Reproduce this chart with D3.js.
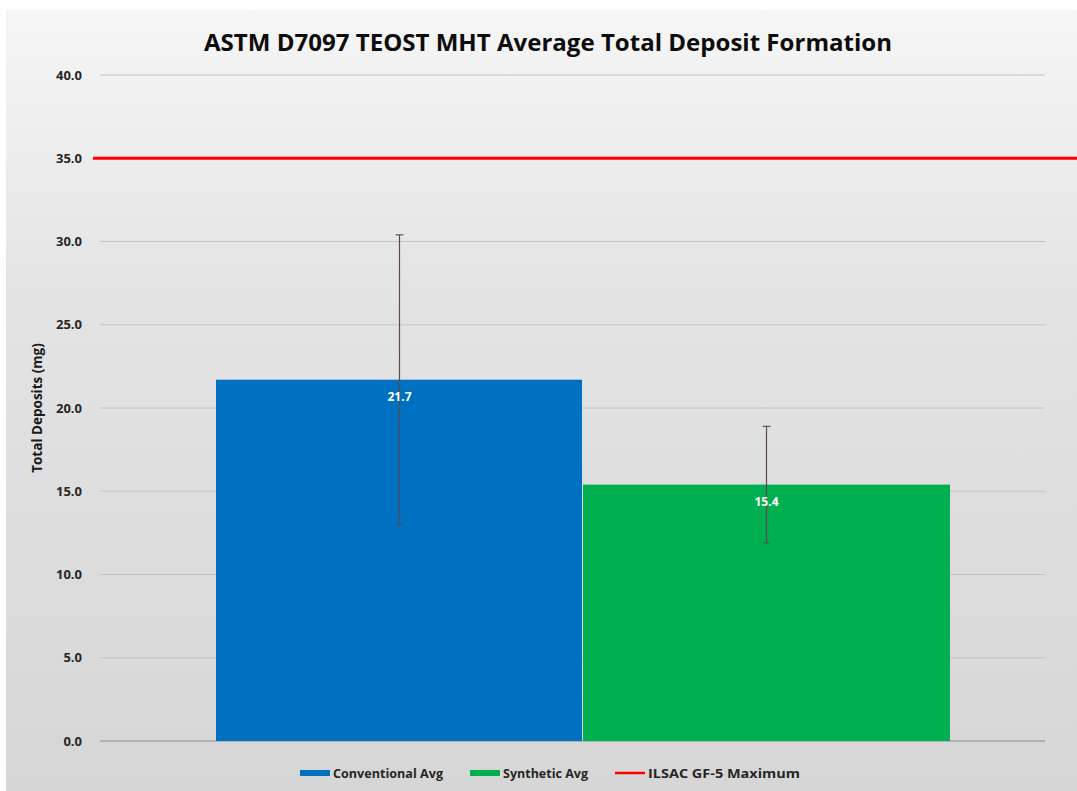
<!DOCTYPE html>
<html>
<head>
<meta charset="utf-8">
<script src="https://cdn.jsdelivr.net/npm/d3@7"></script>
<style>
  body { margin: 0; background: #ffffff; }
  svg { display: block; font-family: "Open Sans", "Noto Sans", sans-serif; }
</style>
</head>
<body>
<div id="chart"></div>
<script>
// data
var seriesNames = ["Conventional Avg", "Synthetic Avg"];
var seriesValues = [21.7, 15.4];
var seriesErrors = [8.7, 3.5];
var seriesColors = ["#0070c0", "#00b050"];
var limitName = "ILSAC GF-5 Maximum";
var limitValue = 35.0;
var yTicks = [0, 5, 10, 15, 20, 25, 30, 35, 40];

var WIDTH = 1077, HEIGHT = 791;
var PLOT_LEFT = 100, PLOT_RIGHT = 1045;
var BAR_LEFT = 216, BAR_RIGHT = 950;
var Y_BOTTOM = 741, Y_TOP = 75;

var svg = d3.select("#chart").append("svg")
	.attr("width", WIDTH)
	.attr("height", HEIGHT);

var defs = svg.append("defs");
var grad = defs.append("linearGradient")
	.attr("id", "bg")
	.attr("x1", 0).attr("y1", 0).attr("x2", 0).attr("y2", 1);
grad.append("stop").attr("offset", "0%").attr("stop-color", "#f6f6f6");
grad.append("stop").attr("offset", "35%").attr("stop-color", "#e4e4e4");
grad.append("stop").attr("offset", "100%").attr("stop-color", "#d6d6d6");

svg.append("rect")
	.attr("x", 6).attr("y", 10)
	.attr("width", WIDTH - 6).attr("height", HEIGHT - 10)
	.attr("fill", "url(#bg)");

var y = d3.scaleLinear().domain([0, 40]).range([Y_BOTTOM, Y_TOP]);
var x = d3.scaleBand().domain(seriesNames).range([BAR_LEFT, BAR_RIGHT]).padding(0);

// gridlines
svg.append("g")
	.selectAll("line")
	.data(yTicks)
	.join("line")
	.attr("x1", PLOT_LEFT).attr("x2", PLOT_RIGHT)
	.attr("y1", function(d) { return y(d); })
	.attr("y2", function(d) { return y(d); })
	.attr("stroke", function(d) { return d == 0 ? "#8c8c8c" : "#c4c4c4"; })
	.attr("stroke-width", 1);

// y axis labels
var yAxis = d3.axisLeft(y).tickValues(yTicks).tickFormat(d3.format(".1f")).tickSize(0).tickPadding(0);
var yg = svg.append("g")
	.attr("transform", "translate(82,0)")
	.call(yAxis);
yg.select(".domain").remove();
yg.selectAll("text")
	.attr("font-size", 13)
	.attr("font-weight", "bold")
	.attr("fill", "#262626")
	.attr("font-family", "'Open Sans', sans-serif");

// axis title
svg.append("text")
	.attr("transform", "translate(42," + ((Y_TOP + Y_BOTTOM) / 2) + ") rotate(-90)")
	.attr("text-anchor", "middle")
	.attr("font-size", 13.5)
	.attr("font-weight", "bold")
	.attr("fill", "#1a1a1a")
	.text("Total Deposits (mg)");

// bars
svg.append("g")
	.selectAll("rect")
	.data(seriesNames)
	.join("rect")
	.attr("x", function(d) { return x(d); })
	.attr("y", function(d, i) { return y(seriesValues[i]); })
	.attr("width", function(d, i) { return x.bandwidth() - (i == 0 ? 1 : 0); })
	.attr("height", function(d, i) { return y(0) - y(seriesValues[i]); })
	.attr("fill", function(d, i) { return seriesColors[i]; });

// limit line
svg.append("line")
	.attr("x1", 93).attr("x2", WIDTH)
	.attr("y1", y(limitValue)).attr("y2", y(limitValue))
	.attr("stroke", "#ff0000")
	.attr("stroke-width", 3);

// error bars
var eg = svg.append("g");
seriesNames.forEach(function(name, i) {
	var cx = Math.floor(x(name) + x.bandwidth() / 2) + 0.5;
	var top = y(seriesValues[i] + seriesErrors[i]);
	var bot = y(seriesValues[i] - seriesErrors[i]);
	eg.append("line")
		.attr("x1", cx).attr("x2", cx)
		.attr("y1", top).attr("y2", bot)
		.attr("stroke", "#5a4a4a").attr("stroke-width", 1.2);
	eg.append("line")
		.attr("x1", cx - 4).attr("x2", cx + 4)
		.attr("y1", top).attr("y2", top)
		.attr("stroke", "#404040").attr("stroke-width", 1);
	eg.append("line")
		.attr("x1", cx - 3).attr("x2", cx + 3)
		.attr("y1", bot).attr("y2", bot)
		.attr("stroke", "#5a4a4a").attr("stroke-width", 1);
});

// value labels
svg.append("g")
	.selectAll("text")
	.data(seriesNames)
	.join("text")
	.attr("x", function(d) { return x(d) + x.bandwidth() / 2; })
	.attr("y", function(d, i) { return y(seriesValues[i]) + 21; })
	.attr("text-anchor", "middle")
	.attr("font-size", 12)
	.attr("font-weight", "bold")
	.attr("fill", "#ffffff")
	.text(function(d, i) { return d3.format(".1f")(seriesValues[i]); });

// title
svg.append("text")
	.attr("x", 548).attr("y", 51)
	.attr("text-anchor", "middle")
	.attr("font-size", 24)
	.attr("font-weight", "bold")
	.attr("fill", "#0d0d0d")
	.attr("textLength", 688)
	.attr("lengthAdjust", "spacingAndGlyphs")
	.text("ASTM D7097 TEOST MHT Average Total Deposit Formation");

// legend
var legendItems = [
	{ name: seriesNames[0], color: seriesColors[0], type: "bar", x: 300, w: 110 },
	{ name: seriesNames[1], color: seriesColors[1], type: "bar", x: 470, w: 85 },
	{ name: limitName, color: "#ff0000", type: "line", x: 615, w: 152 }
];
var lg = svg.append("g");
legendItems.forEach(function(item) {
	if (item.type == "bar") {
		lg.append("rect")
			.attr("x", item.x).attr("y", 770)
			.attr("width", 30).attr("height", 6)
			.attr("fill", item.color);
	} else {
		lg.append("line")
			.attr("x1", item.x).attr("x2", item.x + 30)
			.attr("y1", 773).attr("y2", 773)
			.attr("stroke", item.color).attr("stroke-width", 2.5);
	}
	lg.append("text")
		.attr("x", item.x + 33).attr("y", 778)
		.attr("font-size", 13)
		.attr("font-weight", "bold")
		.attr("fill", "#262626")
		.attr("textLength", item.w)
		.attr("lengthAdjust", "spacingAndGlyphs")
		.text(item.name);
});
</script>
</body>
</html>
